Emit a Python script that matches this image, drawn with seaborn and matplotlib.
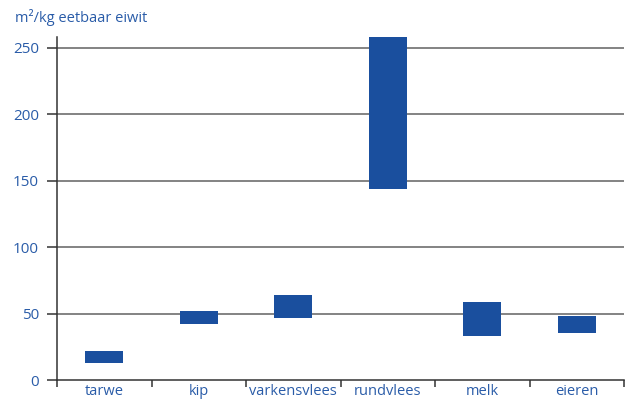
import matplotlib
matplotlib.use("Agg")
import matplotlib.pyplot as plt
import seaborn as sns
import numpy as np
import pandas as pd

categories = ["tarwe", "kip", "varkensvlees", "rundvlees", "melk", "eieren"]
low_values = [12.5, 42, 47, 144, 33, 35]
high_values = [22, 52, 64, 258, 59, 48]
y_ticks = [0, 50, 100, 150, 200, 250]
y_label = "m²/kg eetbaar eiwit"

bar_color = "#1a4f9e"
text_color = "#2a5ca8"

sns.set_theme(style="white")
plt.rcParams['font.family'] = ['Open Sans', 'DejaVu Sans']

df = pd.DataFrame({
    "cat": categories,
    "low": low_values,
    "span": np.array(high_values) - np.array(low_values),
})

fig = plt.figure(figsize=(6.33, 4.03), dpi=100)
ax = fig.add_axes([57/633, 1 - 380/403, (624 - 57)/633, (380 - 37)/403])

sns.barplot(data=df, x="cat", y="span", bottom=df["low"].values, color=bar_color,
            saturation=1, width=0.4, ax=ax, zorder=3, linewidth=0)

ax.set_ylim(0, 258)
ax.set_xlim(-0.5, len(categories) - 0.5)
ax.set_yticks(y_ticks)
for t in y_ticks[1:]:
    ax.axhline(t, color="#7a7a7a", lw=1.3, zorder=1)

ax.set_xticks(np.arange(len(categories)))
ax.set_xticklabels(categories)
ax.set_xticks(np.arange(-0.5, len(categories)), minor=True)
ax.tick_params(axis="x", which="major", length=0, pad=3, labelsize=10.5, labelcolor=text_color)
ax.tick_params(axis="x", which="minor", length=5, width=1.1, color="#333333", direction="out", bottom=True)
ax.tick_params(axis="y", length=7, width=1.1, color="#333333", direction="out", left=True,
               labelsize=11, labelcolor=text_color, pad=6)

ax.set_xlabel("")
ax.set_ylabel("")
for s in ["top", "right"]:
    ax.spines[s].set_visible(False)
for s in ["left", "bottom"]:
    ax.spines[s].set_color("#333333")
    ax.spines[s].set_linewidth(1.1)

fig.text(15/633, 1 - 17/403, y_label, color=text_color, fontsize=10.5, va="center", ha="left")

fig.savefig("out.png", dpi=100)
